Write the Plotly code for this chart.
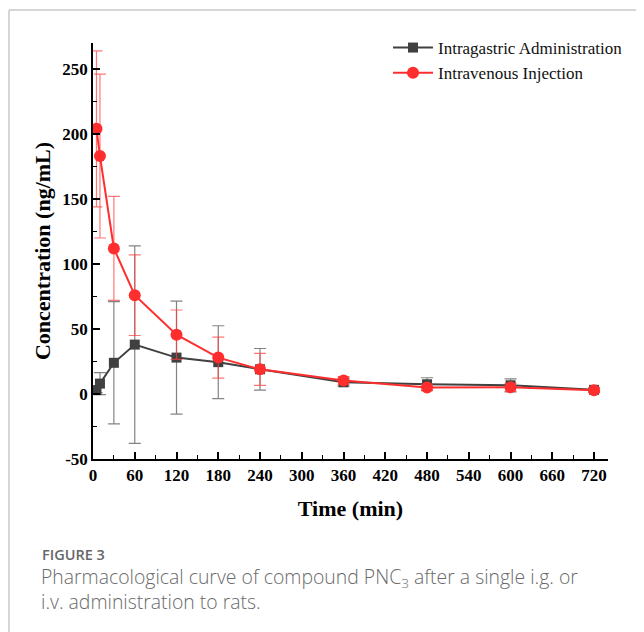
import plotly.graph_objects as go

time_min = [5, 10, 30, 60, 120, 180, 240, 360, 480, 600, 720]

ig_mean = [3, 8, 24, 38, 28, 24.5, 19, 9, 7.5, 6.7, 3.2]
ig_sd = [2, 8.5, 47, 76, 43.5, 28, 16, 3, 5, 5, 1.5]

iv_mean = [204, 183, 112, 76, 45.6, 28, 19, 10.3, 5, 5.1, 2.8]
iv_sd = [60, 63, 40, 31, 19, 15.8, 12.3, 3, 2.2, 3, 1.5]

x_ticks = [0, 60, 120, 180, 240, 300, 360, 420, 480, 540, 600, 660, 720]
y_ticks = [-50, 0, 50, 100, 150, 200, 250]

SERIF = "Liberation Serif, Times New Roman, serif"
SANS = "Open Sans, Noto Sans, sans-serif"

fig = go.Figure()
fig.add_trace(go.Scatter(
    x=time_min, y=ig_mean, name="Intragastric Administration",
    mode="lines+markers",
    line=dict(color="#404040", width=2),
    marker=dict(symbol="square", size=10, color="#404040"),
    error_y=dict(type="data", array=ig_sd, visible=True,
                 color="rgba(90,90,90,0.75)", thickness=1.2, width=6),
))
fig.add_trace(go.Scatter(
    x=time_min, y=iv_mean, name="Intravenous Injection",
    mode="lines+markers",
    line=dict(color="#ff2e2e", width=2),
    marker=dict(symbol="circle", size=12, color="#ff2e2e"),
    error_y=dict(type="data", array=iv_sd, visible=True,
                 color="rgba(255,60,60,0.7)", thickness=1.2, width=6),
))

# page body has an 8px default margin: draw at 636x624 and offset reference pixels by 8
OFF = 8
W, H = 644 - OFF, 632 - OFF
L, T = 93 - OFF, 43 - OFF
R, B = W - (608 - OFF), H - (459 - OFF)
pw, ph = W - L - R, H - T - B

def px(xp):
    return (xp - OFF - L) / pw

def py(yp):
    return (H - B - (yp - OFF)) / ph

fig.update_layout(
    width=W, height=H,
    margin=dict(l=L, r=R, t=T, b=B),
    paper_bgcolor="white", plot_bgcolor="white",
    showlegend=True,
    legend=dict(x=px(388), y=py(30), xanchor="left", yanchor="top",
                font=dict(family=SERIF, size=17, color="#111"),
                bgcolor="rgba(0,0,0,0)", tracegroupgap=0, itemwidth=40),
    xaxis=dict(
        range=[0, 740], tickmode="array", tickvals=x_ticks,
        ticktext=[str(v) for v in x_ticks],
        showgrid=False, zeroline=False, showline=True, linecolor="black", linewidth=1.5,
        ticks="inside", ticklen=7, tickwidth=1.5, tickcolor="black",
        minor=dict(dtick=30, tick0=0, ticks="inside", ticklen=4, tickwidth=1.2, tickcolor="black"),
        tickfont=dict(family=SERIF, size=17, color="black", weight="bold"),
        title=dict(text="<b>Time (min)</b>", font=dict(family=SERIF, size=22, color="black"), standoff=16),
    ),
    yaxis=dict(
        range=[-50, 270], tickmode="array", tickvals=y_ticks,
        ticktext=[str(v) for v in y_ticks],
        showgrid=False, zeroline=False, showline=True, linecolor="black", linewidth=1.5,
        ticks="inside", ticklen=7, tickwidth=1.5, tickcolor="black",
        minor=dict(dtick=25, tick0=0, ticks="inside", ticklen=4, tickwidth=1.2, tickcolor="black"),
        tickfont=dict(family=SERIF, size=17, color="black", weight="bold"),
        title=dict(text="<b>Concentration (ng/mL)</b>", font=dict(family=SERIF, size=22, color="black"), standoff=6),
    ),
    shapes=[
        dict(type="line", xref="paper", yref="paper", x0=px(9), x1=px(650), y0=py(10), y1=py(10),
             line=dict(color="#c8c8c8", width=1.5)),
        dict(type="line", xref="paper", yref="paper", x0=px(9), x1=px(9), y0=py(10), y1=py(640),
             line=dict(color="#c8c8c8", width=1.5)),
    ],
    annotations=[
        dict(text="FIGURE 3", xref="paper", yref="paper", x=px(40), y=py(554),
             xanchor="left", yanchor="middle", showarrow=False,
             font=dict(family=SANS, size=14.5, color="#666", weight=600)),
        dict(text="Pharmacological curve of compound PNC<sub>3</sub> after a single i.g. or",
             xref="paper", yref="paper", x=px(39), y=py(577),
             xanchor="left", yanchor="middle", showarrow=False,
             font=dict(family=SANS, size=19.4, color="#6a6a6a", weight=300)),
        dict(text="i.v. administration to rats.",
             xref="paper", yref="paper", x=px(39), y=py(601),
             xanchor="left", yanchor="middle", showarrow=False,
             font=dict(family=SANS, size=19.4, color="#6a6a6a", weight=300)),
    ],
)

fig.write_html("out.html")
